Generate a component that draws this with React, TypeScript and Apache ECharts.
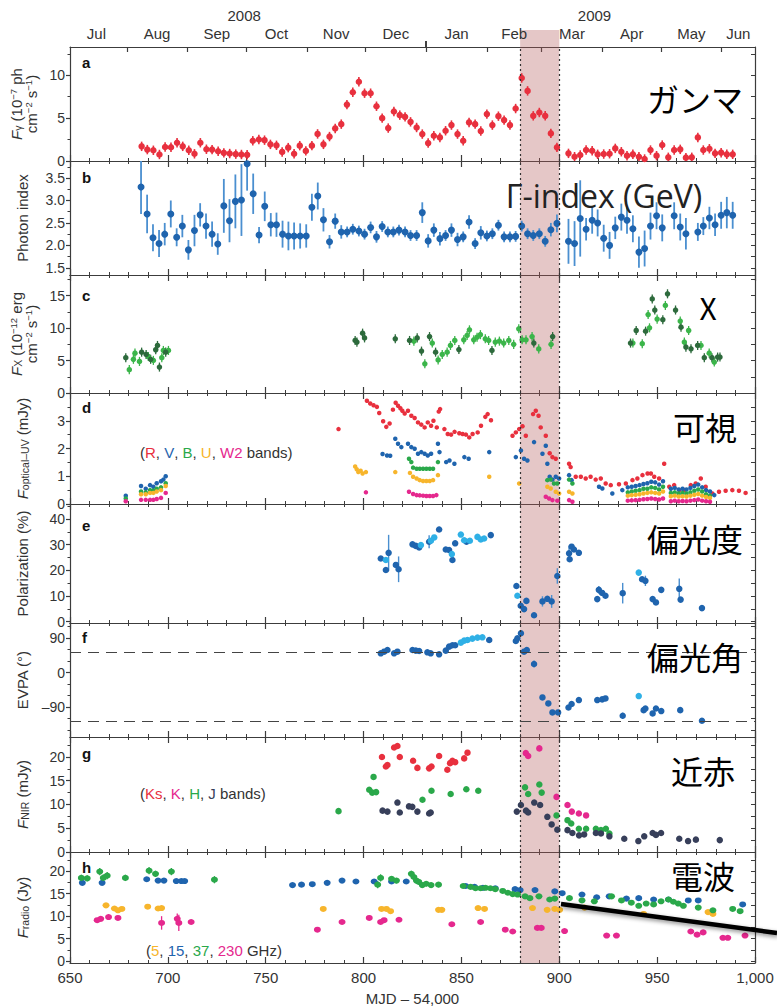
import React, { useEffect, useRef } from "react";
import * as echarts from "echarts";

const FONT = "'Liberation Sans', Arial, Helvetica, sans-serif";
const CJK = "'Noto Sans CJK JP', 'Noto Sans', sans-serif";

// ---------- axes / ticks ----------
const X_RANGE = [650, 1000];
const X_STEP = 50;
const MONTH_TICKS = [679, 710, 740, 771, 801, 832, 863, 891, 922, 952, 983];
const MONTH_MIDS = [663.5, 694.5, 725, 755.5, 786, 816.5, 847.5, 877, 906.5, 937, 967.5, 991.5];
const MONTH_NAMES = ["Jul", "Aug", "Sep", "Oct", "Nov", "Dec", "Jan", "Feb", "Mar", "Apr", "May", "Jun"];
const YEAR_MIDS = [739, 918];
const YEAR_NAMES = ["2008", "2009"];
const YEAR_BOUNDARY = [832];
const FLARE = [880, 900];
const EVPA_REF = [52, -128];

const Y_RANGES = [[0, 13.3], [1.34, 3.88], [0, 18.2], [0, 4.0], [-0.5, 45.8], [-168, 129], [0, 24.2], [-0.4, 24.25]];
const Y_MAJOR = [[0, 5, 10], [1.5, 2, 2.5, 3, 3.5], [0, 5, 10, 15], [0, 1, 2, 3], [0, 10, 20, 30, 40], [-90, 0, 90], [0, 5, 10, 15, 20], [0, 5, 10, 15, 20]];
const Y_MINOR = [[2.5, 7.5, 12.5], [1.75, 2.25, 2.75, 3.25, 3.75], [2.5, 7.5, 12.5, 17.5], [0.5, 1.5, 2.5, 3.5], [5, 15, 25, 35, 45], [-150, -120, -60, -30, 30, 60, 120], [2.5, 7.5, 12.5, 17.5, 22.5], [2.5, 7.5, 12.5, 17.5, 22.5]];
const Y_NAMES = [
  "{i|F}{sub|γ} (10{sup|−7} ph\ncm{sup|−2} s{sup|−1})",
  "Photon index",
  "{i|F}{sub|X} (10{sup|−12} erg\ncm{sup|−2} s{sup|−1})",
  "{i|F}{sub|optical–UV} (mJy)",
  "Polarization (%)",
  "EVPA (°)",
  "{i|F}{sub|NIR} (mJy)",
  "{i|F}{sub|radio} (Jy)",
];
const PANEL_LETTERS = ["a", "b", "c", "d", "e", "f", "g", "h"];
const PANEL_TAGS = ["ガンマ", "Γ-index (GeV)", "X", "可視", "偏光度", "偏光角", "近赤", "電波"];

// ---------- data ----------
const GAMMA = [[686.6,1.71],[689.5,1.33],[692.6,1.25],[695.7,0.76],[698.6,1.63],[701.6,1.6],[704.7,2.13],[707.6,1.71],[710.7,1.25],[713.6,0.84],[716.6,2.13],[719.7,1.37],[722.6,1.33],[725.7,1.14],[728.6,0.95],[731.6,0.87],[734.7,0.8],[737.6,0.76],[740.5,0.72],[743.4,2.36],[746.5,2.51],[749.4,2.43],[752.4,1.94],[755.5,1.83],[758.4,1.06],[761.5,1.56],[764.5,0.84],[767.4,1.79],[770.5,1.18],[773.6,1.79],[776.5,3.16],[779.5,1.94],[782.6,2.85],[785.5,3.8],[788.6,4.3],[791.5,6.58],[794.5,8.02],[797.6,9.24],[800.5,7.91],[803.6,7.91],[806.6,6.39],[809.5,5.0],[812.6,3.84],[815.5,5.78],[818.5,5.35],[821.2,5.15],[824,4.57],[827.1,3.91],[830,3.14],[833,2.09],[835.9,2.95],[839,2.75],[841.9,3.53],[844.9,4.19],[848,3.14],[850.9,2.36],[853.9,4.5],[857,4.3],[859.9,3.49],[863,5.47],[865.8,4.19],[868.9,5.23],[871.8,4.77],[874.8,4.19],[877.7,6.12],[880.8,9.69],[883.8,8.18],[886.7,5.27],[889.8,5.66],[892.8,5.27],[895.7,3.22],[898.8,1.59],[904.7,0.89],[907.8,0.5],[910.7,0.7],[913.7,1.28],[916.8,1.2],[919.6,0.78],[922.7,0.81],[925.7,0.85],[928.6,1.47],[931.7,1.08],[934.6,0.62],[937.6,0.78],[940.7,0.5],[943.6,0.23],[946.6,1.28],[949.7,0.62],[952.6,1.86],[955.7,0.43],[958.7,1.28],[961.8,1.36],[964.7,0.39],[967.7,0.43],[970.8,2.75],[973.6,1.28],[976.7,1.43],[979.6,0.89],[982.7,0.97],[985.6,0.78],[988.6,0.78]];
const GAMMA_ERR = 0.55;

const PHOTON_INDEX = [[686.3,3.3,0.6],[689.4,2.7,0.43],[692.4,2.17,0.3],[695.5,2.04,0.3],[698.4,2.25,0.25],[701.5,2.7,0.3],[704.5,2.18,0.2],[707.4,2.43,0.25],[710.5,1.9,0.22],[713.6,2.33,0.35],[716.5,2.68,0.26],[719.5,2.43,0.28],[722.6,2.25,0.28],[725.5,2.03,0.24],[728.6,2.88,0.6],[731.5,2.55,0.48],[734.5,2.98,0.6],[737.6,3.01,0.8],[740.5,3.82,0.6],[743.6,3.15,0.45],[746.6,2.23,0.18],[749.5,2.87,0.33],[752.6,2.46,0.26],[755.5,2.46,0.27],[758.6,2.25,0.3],[761.6,2.21,0.32],[764.5,2.21,0.3],[767.6,2.21,0.28],[770.7,2.21,0.26],[773.6,2.85,0.3],[776.6,3.1,0.3],[779.5,2.57,0.26],[782.6,2.08,0.15],[785.5,2.54,0.17],[788.6,2.3,0.15],[791.6,2.3,0.12],[794.5,2.36,0.12],[797.6,2.32,0.12],[800.5,2.25,0.12],[803.6,2.4,0.13],[806.6,2.19,0.13],[809.5,2.42,0.12],[812.4,2.3,0.12],[815.2,2.3,0.12],[818.1,2.34,0.12],[821.2,2.3,0.12],[824,2.22,0.12],[827.1,2.22,0.12],[830,2.73,0.23],[833,2.1,0.15],[835.9,2.34,0.15],[839,2.15,0.15],[841.9,2.22,0.12],[844.9,2.34,0.15],[848,2.13,0.15],[850.9,2.19,0.12],[853.9,2.52,0.15],[857,2.04,0.12],[859.9,2.28,0.15],[863,2.21,0.12],[865.8,2.26,0.12],[868.9,2.45,0.12],[871.8,2.19,0.12],[874.8,2.19,0.12],[877.7,2.2,0.12],[880.8,2.43,0.12],[883.8,2.26,0.12],[886.7,2.22,0.12],[889.8,2.26,0.12],[892.8,2.09,0.12],[895.7,2.35,0.15],[898.8,2.49,0.2],[904.7,2.09,0.5],[907.8,2.04,0.5],[910.7,2.6,0.85],[913.7,2.36,0.25],[916.8,2.56,0.3],[919.6,2.5,0.3],[922.7,2.16,0.3],[925.7,2.0,0.3],[928.6,2.39,0.25],[931.7,2.63,0.3],[934.6,2.56,0.3],[937.6,2.37,0.3],[940.7,1.85,0.35],[943.6,1.93,0.4],[946.6,2.43,0.3],[949.7,2.66,0.3],[952.6,2.39,0.3],[958.7,2.66,0.3],[961.8,2.41,0.3],[964.7,2.26,0.35],[970.8,2.3,0.2],[973.6,2.43,0.2],[976.7,2.61,0.25],[979.6,2.46,0.25],[982.7,2.67,0.3],[985.6,2.73,0.35],[988.6,2.67,0.3]];

const XRAY_DARK = [[678.5,5.44],[686.6,6.3],[688.9,5.95],[691.2,5.2],[693.8,6.67],[694.7,7.33],[695.7,4.0],[698.9,6.3],[795.7,8.1],[796.6,7.85],[799.5,9.23],[800.5,8.5],[816.2,8.36],[823.5,8.1],[827.4,8.5],[829.6,6.46],[833.7,8.7],[836.8,6.3],[848.7,6.7],[865.6,6.56],[887,7.7],[896.6,8.7],[936.4,7.7],[939.3,9.64],[944.1,9.54],[947.5,14.5],[948.8,12.8],[952.9,11.3],[955.3,15.3],[959.4,12.8],[962.2,10.15],[964.7,7.08],[967.3,6.82],[970.7,7.33],[974.1,5.44],[978,5.44],[980.9,5.54],[982.1,5.54]];
const XRAY_LIGHT = [[680.3,3.6],[682.4,5.2],[683.2,6.15],[685.5,4.87],[690,5.64],[692.6,5.03],[696.9,5.44],[697.7,6.56],[700.3,6.56],[825.7,8.0],[831.3,4.5],[835.1,7.7],[838.1,5.1],[840.2,5.95],[842.7,6.3],[844.4,7.33],[846.6,8.1],[851.2,8.2],[852.9,8.87],[854.1,9.74],[856.3,8.2],[858,8.6],[859.7,9.0],[862.2,8.36],[863.9,8.1],[867.3,7.85],[869.4,8.0],[871.6,7.7],[874.2,8.1],[876.7,7.5],[879.3,9.9],[881,8.2],[883,8.2],[886.1,8.7],[889.5,6.8],[895.8,7.5],[937.6,7.7],[942.4,7.6],[945.4,12.1],[946.1,10.05],[950,11.4],[954.2,13.5],[961.8,11.1],[963.9,7.85],[966.1,9.64],[972.4,7.33],[976.6,6.15],[979.2,4.77]];
const XRAY_ERR = 0.7;

const OPT_R = [[787.2,2.7],[801.7,3.72],[803.4,3.62],[805.1,3.56],[806.8,3.5],[808,3.28],[810,2.98],[811.6,2.78],[813.3,2.9],[815,3.4],[816.4,3.65],[817.6,3.54],[818.8,3.45],[819.8,3.36],[821,3.26],[822.7,3.36],[824.4,3.18],[826.1,3.1],[827.8,2.94],[829.5,2.86],[831.2,2.76],[832.8,2.94],[834.5,2.82],[835.7,3.0],[837.4,2.76],[838.4,3.33],[839.1,3.42],[841.3,2.7],[843,2.52],[844.7,2.5],[846.5,2.6],[848.9,2.55],[850.6,2.52],[852.3,2.5],[854,2.4],[855.7,2.52],[858.3,2.58],[860,2.82],[862.2,3.14],[863.4,3.24],[865.1,3.02],[876.1,2.46],[877.8,2.58],[879.5,2.7],[881.2,2.8],[882.9,2.46],[886.6,3.24],[888,3.36],[889.4,3.18],[890.5,2.76],[893.1,2.46],[895.1,1.83],[896.5,1.69],[898.2,1.63],[905,1.45],[905.8,1.33],[908.4,0.98],[911,0.98],[913.5,0.92],[916,0.98],[918.6,0.88],[921.2,0.92],[923.7,0.74],[926.3,0.68],[930.5,0.71],[934,0.74],[937.4,0.86],[939.9,0.92],[942.5,1.04],[945.1,1.1],[946.8,1.1],[948.5,0.98],[951,0.92],[953.6,1.45],[956.2,0.62],[958.7,0.68],[961.3,0.5],[963.8,0.5],[967.2,0.68],[969.7,0.74],[972.3,0.92],[974.8,0.62],[978.2,0.38],[981.6,0.44],[985,0.48],[988.4,0.5],[991.8,0.48],[995.2,0.4]];
const OPT_V = [[678.5,0.3],[686.3,0.65],[688.7,0.55],[690.9,0.68],[692.6,0.62],[694.3,0.75],[696.5,0.82],[697.7,0.88],[698.9,1.0],[809.7,1.8],[812,1.75],[813.6,1.74],[816.2,2.35],[817.6,2.17],[819.3,2.05],[822.7,2.17],[824.4,2.05],[826.1,1.99],[827.8,1.81],[829.5,1.87],[831.2,1.81],[832.8,1.75],[834.5,1.81],[838,2.17],[838.8,1.87],[842.2,1.51],[843.9,1.57],[846.4,1.45],[851.5,1.69],[853.7,1.63],[864.2,1.87],[877.8,1.69],[880.4,1.93],[882,1.63],[883.7,1.57],[887.1,2.23],[891.4,1.81],[893.1,2.1],[893.9,1.45],[895.1,0.98],[896.5,0.88],[898.2,0.98],[899.9,0.92],[905,1.04],[906.3,0.86],[920.3,0.62],[922,0.56],[927.1,0.38],[932.2,0.5],[935,0.6],[937,0.62],[939,0.65],[941,0.68],[943,0.72],[945,0.75],[947,0.8],[949,0.78],[951,0.7],[953,0.82],[957,0.55],[959,0.58],[961,0.52],[963,0.55],[965,0.52],[967,0.58],[969,0.65],[971,0.7],[973,0.6],[975,0.5],[977,0.45],[979.2,0.32]];
const OPT_B = [[678.5,0.2],[686.3,0.45],[688.7,0.42],[690.9,0.5],[692.6,0.48],[694.3,0.55],[696.5,0.6],[698.9,0.75],[823.2,1.63],[824.4,1.51],[825.3,1.31],[827.1,1.27],[828.7,1.27],[830.4,1.27],[832.1,1.27],[833.8,1.27],[835.5,1.27],[838,1.51],[893.9,0.86],[895.6,0.88],[897.3,0.74],[899,0.74],[905,0.88],[906.7,0.74],[935,0.42],[937,0.45],[939,0.48],[941,0.5],[943,0.55],[945,0.55],[947,0.6],[949,0.58],[951,0.52],[953,0.62],[957,0.4],[959,0.42],[961,0.38],[963,0.4],[965,0.38],[967,0.42],[969,0.48],[971,0.52],[973,0.45],[975,0.35],[977,0.3]];
const OPT_U = [[686.3,0.35],[688.7,0.35],[690.9,0.4],[692.6,0.4],[694.3,0.45],[696.5,0.5],[698.9,0.65],[795.7,1.35],[796.5,1.25],[797.3,1.15],[798.5,1.2],[799.5,1.1],[801.2,1.15],[816.2,1.15],[823.7,1.12],[825.3,0.98],[827.1,0.92],[828.7,0.86],[830.4,0.83],[832.1,0.83],[833.8,0.83],[835.5,0.86],[838,1.04],[864.2,0.98],[879.5,0.74],[893.9,0.62],[895.6,0.56],[898.2,0.44],[899.9,0.38],[905,0.44],[906.7,0.38],[935,0.3],[937,0.32],[939,0.33],[941,0.35],[943,0.38],[945,0.4],[947,0.42],[949,0.4],[951,0.38],[953,0.45],[957,0.28],[959,0.3],[961,0.27],[963,0.28],[965,0.27],[967,0.3],[969,0.33],[971,0.36],[973,0.3],[975,0.25],[977,0.22]];
const OPT_W2 = [[678.5,0.1],[686.3,0.15],[688.7,0.15],[690.9,0.15],[692.6,0.15],[694.3,0.18],[696.5,0.22],[698.9,0.4],[801.2,0.42],[823.2,0.44],[825.3,0.36],[827.1,0.32],[828.7,0.31],[830.4,0.3],[832.1,0.29],[833.8,0.29],[835.5,0.29],[837.2,0.32],[893.1,0.26],[894.8,0.2],[896.5,0.14],[899,0.12],[905,0.14],[906.7,0.08],[935,0.12],[937,0.13],[939,0.14],[941,0.15],[943,0.17],[945,0.18],[947,0.2],[949,0.18],[951,0.16],[953,0.2],[957,0.1],[959,0.12],[961,0.1],[963,0.11],[965,0.1],[967,0.12],[969,0.14],[971,0.16],[973,0.12],[975,0.1],[977,0.08]];

const POL_DARK = [[808.8,24.6,1],[811.4,20.1,1],[812.8,26.8,7],[816.5,22.1,1],[817.9,20.4,5],[825,30.1,1],[826.7,29.5,1],[828.4,28.9,1],[833.5,31.1,2.5],[838.6,35.9,1],[842,28.1,1],[843.7,27.9,1],[845.4,24,1],[846.8,30.5,1],[852.6,31.1,1],[865,33.7,1],[878.1,13.9,1],[880.3,6.2,1],[882,4.9,1],[883.2,8.1,1],[887.1,2.5,1],[891.4,7.9,2],[893.9,8.9,1],[896.1,7.9,2.5],[899,17.8,3],[905,26.6,3],[905.3,24.3,1],[906.3,29.2,1],[907.5,28.1,1],[910,26.8,1],[919.4,8.8,1],[920.2,12.4,1.5],[921.9,11.2,1],[923.6,10.1,1],[932.4,11.1,4],[942.3,16.5,1],[944,15.9,2],[947.7,8.8,1],[949.4,7.5,1],[952.1,12.4,1],[961.3,12.8,4],[962,8.6,1],[972.9,5.3,1]];
const POL_LIGHT = [[811.4,24],[829.3,29.8],[834.4,31.5],[836.1,32.8],[845.1,26.3],[849.7,33.9],[851.4,31.7],[854.3,31.5],[858.2,33],[859.9,32],[861.6,32.4],[878.6,10.1],[940.6,19.1]];

const EVPA_DARK = [[808.8,50],[810.5,54.3],[812.2,58.7],[815.6,50],[817.3,54.3],[825,58.7],[826.7,57],[828.4,56],[832.6,52.6],[834.3,50],[838.6,47.4],[842,57],[843.7,67.4],[845.4,70.9],[846.8,70.9],[864.2,84.8],[877.8,82.2],[878.6,89],[880.4,102.2],[882,54.3],[883.4,58.7],[887.1,22.1],[891.4,-64.9],[894.4,-80.5],[896.5,-104],[899.4,-104],[904.7,-91],[906.3,-82],[910,-71.8],[919.4,-71.8],[921.9,-70],[923.6,-67.5],[932.4,-112.7],[943.1,-98],[944,-93.6],[947.7,-106.6],[949.4,-93.6],[952.1,-100.5],[961.8,-98],[972.9,-125.8]];
const EVPA_LIGHT = [[849.7,77.8],[851.4,83],[853.1,84.8],[855.6,88.3],[858.2,90.9],[860.7,91.7],[940.6,-61.4]];
const EVPA_ERR = [[887.1,22.1,9],[932.4,-112.7,8],[899.4,-104,4]];

const NIR_KS = [[809.4,20],[811.4,18],[812.2,18.3],[815.6,22],[817.3,22.3],[818.5,20],[825.3,19.2],[827.5,17.7],[833.5,17.6],[834.7,18],[838.6,20.2],[842.8,17.3],[844.2,18.7],[845.4,19.2],[846.8,18.9],[851.4,19.7],[853.1,20.9]];
const NIR_K = [[882.9,20.8],[884.1,20.2],[889.8,21.8],[898.6,11.6],[904.2,9.9],[906.4,8.5],[910,8.1],[913.7,7.7]];
const NIR_H = [[787.2,8.6],[802.9,13.1],[805.1,15.8],[804.4,12.5],[806.4,12.6],[830.1,11],[834.7,12.9],[844.5,12.2],[852.5,13.2],[858.6,12.9],[882.5,13.6],[884.1,12.2],[889.8,14.2],[891,12.5],[898.6,7.7],[904.2,6.7],[906.1,6],[910,4.9],[913.7,4.9],[918.7,4.9],[921.3,4.6],[923.8,4.9],[925.6,3.9]];
const NIR_J = [[809.7,8.7],[812.2,8.5],[817.3,10.4],[818.5,8.3],[823.2,9.6],[824.9,9.5],[827.5,8.5],[833.5,8.1],[834.3,8.3],[878.3,8.5],[880.4,9.9],[883,8.7],[884.1,8.3],[887.2,10.4],[890.2,9.9],[893.9,7.4],[896.1,5.8],[899,4.7],[904.2,4.6],[906.7,4.0],[910.1,3.5],[912.7,3.7],[918.7,4.0],[921.3,3.9],[925.6,3.3],[933.2,2.8],[940.4,2.3],[943.4,3.3],[947.7,4.0],[949.4,3.6],[952,4.0],[961.3,2.8],[965.8,2.3],[969.8,2.6],[982,2.5]];

const RADIO_5 = [[668.4,12.4],[672.7,11.7],[674.5,11.3],[676.5,11.6],[689.7,12.1],[695,11.7],[696.8,11.8],[779.4,11.6],[809.2,11.6],[811.7,11.6],[813.8,11.1],[838.3,11.4],[840,11.4],[858.5,11.8],[861.8,11.6],[886.3,11.8],[893.8,11.4],[897.7,11.6],[900.2,11.4],[912.9,11.9],[943.1,10.5],[976,10.9],[978.5,10.5]];
const RADIO_15 = [[656.3,17.4],[666.4,17.4],[689.2,18.2],[695,17.9],[698,17.9],[704.3,17.8],[706.9,17.8],[708.6,17.8],[763.7,16.9],[768.3,17],[773.8,17.1],[781.4,17.4],[789,17.9],[796.1,17.7],[805.4,17.7],[814.3,17.7],[821.8,17.7],[852.2,16.7],[856.7,16.5],[861,16.3],[867.3,16.2],[877.4,16],[880,15.8],[887.6,15.8],[897.7,15.5],[901.5,15.1],[911.6,14.8],[919.1,14.2],[925.5,14.4],[934.3,13.9],[940.6,14],[948.2,13.7],[955.8,13.7],[965.9,13.5],[971,13.5],[993.7,12.6]];
const RADIO_37 = [[655.8,18.5,0.7],[658.8,18.4,0.7],[665.2,19.9,0.8],[667,18.5,0.8],[669,19,0.8],[678.3,18.5,0.7],[690.4,20.1,0.8],[693.7,19.4,0.7],[701.8,19.9,0.8],[723.8,18.1,0.8],[807.2,17,0.8],[808.7,18.5,0.8],[814.3,18.3,0.6],[816.8,17.9,0.6],[824.4,19.4,0.7],[825.7,18.7,0.6],[827,17.9,0.6],[828.2,17.6,0.6],[830,16.9,0.6],[832,17.2,0.6],[834.5,16.9,0.6],[838.3,17,0.6],[850.9,16.7,0.5],[854.7,16.5,0.5],[857.2,16.2,0.5],[859.8,16.2,0.5],[862.3,16.3,0.5],[864.8,16.2,0.5],[867.3,16,0.5],[871.1,15.6,0.5],[873.7,15.2,0.5],[876.2,14.9,0.5],[878.7,14.8,0.5],[882.5,14.4,0.5],[885,14,0.5],[889.6,14.4,0.5],[895.1,13.7,0.5],[897.7,13.9,0.5],[905.2,14,0.5],[911.6,13.5,0.5],[917.9,13.3,0.5],[926.7,14.4,0.5],[931.8,13.5,0.5],[936.8,13,0.5],[940.6,12.3,0.5],[944.4,12.8,0.5],[948.2,12.6,0.5],[952,13.3,0.5],[955.8,13.7,0.5],[958.3,13.2,0.5],[960.8,12.8,0.5],[963.4,12.3,0.5],[971,11.9,0.5],[978.5,11.3,0.5],[988.6,11.6,0.5],[992.4,11.1,0.5]];
const RADIO_230 = [[663.9,9.1,0.5],[665.7,9.4,0.5],[669.7,9.8,0.6],[674.5,9.6,0.5],[696.8,8.5,1.5],[704.8,9.4,1.2],[705.6,8.5,1.8],[711.9,8.7,0.5],[776.4,7,0.5],[789,8.7,0.5],[802.9,9.6,0.5],[808.7,8.7,0.5],[810.5,9.1,0.5],[818.1,9.2,0.4],[845.1,8.2,0.5],[859.8,8.7,0.5],[872.4,7,0.4],[876.2,6.6,0.4],[888.8,7.4,0.4],[890.8,7.4,0.4],[902.7,6.7,0.4],[924.2,5.7,0.4],[929.2,5.7,0.4],[967.2,6.6,0.4],[970.4,5.9,0.4],[973.5,6.4,0.4],[983.6,5.2,0.4],[986.1,5.2,0.4],[994.9,5.7,0.4]];

// ---------- styles ----------
const C = {
  axis: "#3c3c3c",
  red: "#e8303e",
  blue: "#1f64ae",
  blueBar: "#4a8fd0",
  dkGreen: "#2d6a3c",
  ltGreen: "#3bb54a",
  green: "#2aa84a",
  orange: "#f7b52c",
  magenta: "#e5288e",
  navy: "#373f5a",
  cyan: "#2fb0e6",
  band: "rgba(180,90,90,0.34)",
};
const EDGES = [47, 161, 275, 393, 504, 623, 737, 852, 968];
const TICK_FS = 15;
const YTICK_FS = 14;

function nearestLabel(v: number, vals: number[], names: string[]) {
  let best = 0;
  for (let k = 1; k < vals.length; k++) if (Math.abs(vals[k] - v) < Math.abs(vals[best] - v)) best = k;
  return names[best];
}

function dots(gi: number, data: number[][], color: string, size: any, z = 4) {
  return { type: "scatter", xAxisIndex: gi, yAxisIndex: gi, data, symbolSize: size, itemStyle: { color, opacity: 1 }, silent: true, z, animation: false };
}
function bars(gi: number, data: number[][], color: string, width = 1.3) {
  return {
    type: "custom", xAxisIndex: gi, yAxisIndex: gi, data, clip: true, silent: true, z: 3,
    encode: { x: 0, y: 1 },
    renderItem: (_p: any, api: any) => {
      const x = api.value(0), y = api.value(1), e = api.value(2);
      const a = api.coord([x, y - e]);
      const b = api.coord([x, y + e]);
      return { type: "line", shape: { x1: a[0], y1: a[1], x2: b[0], y2: b[1] }, style: { stroke: color, lineWidth: width } };
    },
  };
}
const withErr = (data: number[][], e: number) => data.map((d) => [d[0], d[1], e]);

export default function App() {
  const ref = useRef<HTMLDivElement>(null);
  useEffect(() => {
    document.body.style.margin = "0";
    if (!ref.current) return;
    const chart = echarts.init(ref.current, null, { renderer: "svg" });
    const lineStyle = { color: C.axis, width: 1.2 };

    const grid = EDGES.slice(0, 8).map((t, i) => ({ left: 70, right: 22, top: t, height: EDGES[i + 1] - t }));

    const xAxis: any[] = [];
    for (let i = 0; i < 8; i++) {
      xAxis.push({
        type: "value", gridIndex: i, position: "bottom", min: X_RANGE[0], max: X_RANGE[1], interval: X_STEP,
        axisLine: { show: true, onZero: false, lineStyle },
        axisTick: { show: true, inside: true, length: 6, lineStyle },
        minorTick: { show: true, splitNumber: 5, length: 3, lineStyle: { color: C.axis, width: 1 } },
        splitLine: { show: false }, minorSplitLine: { show: false },
        axisLabel: { show: i === 7, fontSize: TICK_FS, color: "#333", margin: 7, fontFamily: FONT, formatter: (v: number) => v.toLocaleString("en-US") },
        name: i === 7 ? "MJD – 54,000" : "", nameLocation: "middle", nameGap: 28,
        nameTextStyle: { fontSize: TICK_FS, color: "#333", fontFamily: FONT },
      });
    }
    for (let i = 0; i < 8; i++) {
      if (i === 0) {
        xAxis.push({
          type: "value", gridIndex: 0, position: "top", min: X_RANGE[0], max: X_RANGE[1],
          axisLine: { show: true, onZero: false, lineStyle },
          axisTick: { show: true, inside: true, length: 5, customValues: MONTH_TICKS, lineStyle },
          minorTick: { show: false }, splitLine: { show: false },
          axisLabel: { show: true, customValues: MONTH_MIDS, fontSize: TICK_FS, color: "#333", margin: 6, fontFamily: FONT,
            formatter: (v: number) => nearestLabel(v, MONTH_MIDS, MONTH_NAMES) },
        });
      } else {
        xAxis.push({
          type: "value", gridIndex: i, position: "top", min: X_RANGE[0], max: X_RANGE[1], interval: X_STEP,
          axisLine: { show: true, onZero: false, lineStyle },
          axisTick: { show: true, inside: true, length: 6, lineStyle },
          minorTick: { show: true, splitNumber: 5, length: 3, lineStyle: { color: C.axis, width: 1 } },
          splitLine: { show: false }, minorSplitLine: { show: false },
          axisLabel: { show: false },
        });
      }
    }
    xAxis.push({
      type: "value", gridIndex: 0, position: "top", min: X_RANGE[0], max: X_RANGE[1],
      axisLine: { show: false, onZero: false },
      axisTick: { show: true, inside: false, length: 6, customValues: YEAR_BOUNDARY, lineStyle: { color: "#111", width: 1.6 } },
      minorTick: { show: false }, splitLine: { show: false },
      axisLabel: { show: true, customValues: YEAR_MIDS, fontSize: TICK_FS, color: "#333", margin: 24, fontFamily: FONT,
        formatter: (v: number) => nearestLabel(v, YEAR_MIDS, YEAR_NAMES) },
    });

    const fmtY = (i: number) => (v: number) => {
      if (i === 1) return v.toFixed(1);
      if (v < 0) return "–" + Math.abs(v);
      return String(v);
    };
    const yAxis: any[] = [];
    for (let i = 0; i < 8; i++) {
      const twoLine = i === 0 || i === 2;
      yAxis.push({
        type: "value", gridIndex: i, position: "left", min: Y_RANGES[i][0], max: Y_RANGES[i][1],
        axisLine: { show: true, onZero: false, lineStyle },
        axisTick: { show: true, inside: false, length: 4, customValues: Y_MAJOR[i], lineStyle },
        axisLabel: { show: true, customValues: Y_MAJOR[i], fontSize: YTICK_FS, color: "#333", margin: 5, fontFamily: FONT, formatter: fmtY(i) },
        splitLine: { show: false },
        name: Y_NAMES[i], nameLocation: "middle", nameRotate: 90, nameGap: twoLine ? 27 : 40,
        nameTextStyle: {
          fontSize: 15, color: "#333", fontFamily: FONT, lineHeight: 15,
          rich: {
            i: { fontStyle: "italic", fontSize: 15, color: "#333", fontFamily: FONT, lineHeight: 15 },
            sub: { fontSize: 10.5, color: "#333", fontFamily: FONT, lineHeight: 10, verticalAlign: "bottom" },
            sup: { fontSize: 9.5, color: "#333", fontFamily: FONT, lineHeight: 9, verticalAlign: "top" },
          },
        },
      });
    }
    for (let i = 0; i < 8; i++) {
      yAxis.push({
        type: "value", gridIndex: i, position: "left", min: Y_RANGES[i][0], max: Y_RANGES[i][1],
        axisLine: { show: false, onZero: false },
        axisTick: { show: true, inside: false, length: 2.5, customValues: Y_MINOR[i], lineStyle: { color: C.axis, width: 1 } },
        axisLabel: { show: false }, splitLine: { show: false },
      });
    }
    for (let i = 0; i < 8; i++) {
      yAxis.push({
        type: "value", gridIndex: i, position: "right", min: Y_RANGES[i][0], max: Y_RANGES[i][1],
        axisLine: { show: true, onZero: false, lineStyle },
        axisTick: { show: true, inside: true, length: 4, customValues: [...Y_MAJOR[i], ...Y_MINOR[i]], lineStyle: { color: C.axis, width: 1 } },
        axisLabel: { show: false }, splitLine: { show: false },
      });
    }

    const series: any[] = [];
    for (let i = 0; i < 8; i++) {
      series.push({
        type: "scatter", xAxisIndex: i, yAxisIndex: i, data: [], z: 1, silent: true,
        markArea: { silent: true, itemStyle: { color: C.band }, data: [[{ xAxis: FLARE[0] }, { xAxis: FLARE[1] }]] },
        markLine: {
          silent: true, symbol: "none", label: { show: false },
          lineStyle: { type: [2, 3], color: "#333", width: 1.2 },
          data: FLARE.map((v) => ({ xAxis: v })),
        },
      });
    }
    // a
    series.push(bars(0, withErr(GAMMA, GAMMA_ERR), C.red, 1.6));
    series.push(dots(0, GAMMA, C.red, 6.5));
    // b
    series.push(bars(1, PHOTON_INDEX, C.blueBar, 1.8));
    series.push(dots(1, PHOTON_INDEX, C.blue, 7));
    // c
    series.push(bars(2, withErr(XRAY_LIGHT, XRAY_ERR), C.ltGreen, 1.3));
    series.push(bars(2, withErr(XRAY_DARK, XRAY_ERR), C.dkGreen, 1.3));
    series.push(dots(2, XRAY_LIGHT, C.ltGreen, 5.5));
    series.push(dots(2, XRAY_DARK, C.dkGreen, 5.5));
    // d
    series.push(dots(3, OPT_R, C.red, 4.5));
    series.push(dots(3, OPT_V, C.blue, 4.5));
    series.push(dots(3, OPT_B, C.green, 4.5));
    series.push(dots(3, OPT_U, C.orange, 4.5));
    series.push(dots(3, OPT_W2, C.magenta, 4.5));
    // e
    series.push(bars(4, POL_DARK, C.blueBar, 1.4));
    series.push(dots(4, POL_DARK, C.blue, 6.5));
    series.push(dots(4, POL_LIGHT, C.cyan, 6.5));
    // f
    series.push({
      type: "scatter", xAxisIndex: 5, yAxisIndex: 5, data: [], z: 1, silent: true,
      markLine: {
        silent: true, symbol: "none", label: { show: false },
        lineStyle: { type: [11, 7], color: "#444", width: 1.2 },
        data: EVPA_REF.map((v) => ({ yAxis: v })),
      },
    });
    series.push(bars(5, EVPA_ERR, C.blueBar, 1.4));
    series.push(dots(5, EVPA_DARK, C.blue, 6.5));
    series.push(dots(5, EVPA_LIGHT, C.cyan, 6.5));
    // g
    series.push(dots(6, NIR_KS, C.red, 6.5));
    series.push(dots(6, NIR_K, C.magenta, 6.5));
    series.push(dots(6, NIR_H, C.green, 6.5));
    series.push(dots(6, NIR_J, C.navy, 6.5));
    // h
    series.push(bars(7, RADIO_37, C.green, 1.3));
    series.push(bars(7, RADIO_230, C.magenta, 1.3));
    series.push(dots(7, RADIO_5, C.orange, [7, 6]));
    series.push(dots(7, RADIO_15, C.blue, [7, 6]));
    series.push(dots(7, RADIO_37, C.green, [7, 6]));
    series.push(dots(7, RADIO_230, C.magenta, [7, 6]));

    chart.setOption({
      animation: false,
      textStyle: { fontFamily: FONT },
      grid, xAxis, yAxis, series,
    });

    const xa = chart.convertToPixel({ xAxisIndex: 0 }, FLARE[0]) as number;
    const xb = chart.convertToPixel({ xAxisIndex: 0 }, FLARE[1]) as number;

    const letterY = [62, 177, 295, 407, 525, 637, 753, 867];
    const tagPos = [[695, 98, 32], [604, 195, 32], [708, 307, 30], [705, 426, 32], [695, 538, 32], [695, 656, 32], [703, 770, 32], [703, 875, 32]];
    const graphic: any[] = [];
    graphic.push({ type: "rect", shape: { x: xa, y: 30, width: xb - xa, height: EDGES[0] - 30 }, style: { fill: C.band }, z: -1, silent: true });
    PANEL_LETTERS.forEach((l, i) => {
      graphic.push({ type: "text", x: 82, y: letterY[i], silent: true,
        style: { text: l, fontSize: 15, fontWeight: "bold", fontFamily: FONT, fill: "#111", textAlign: "left", textVerticalAlign: "middle", verticalAlign: "middle" } });
    });
    PANEL_TAGS.forEach((t, i) => {
      graphic.push({ type: "text", x: tagPos[i][0], y: tagPos[i][1], silent: true, z: 50,
        style: { text: t, fontSize: tagPos[i][2], fontFamily: i === 1 ? "'Open Sans', 'Noto Sans', sans-serif" : CJK, fill: i === 1 ? "#222" : "#000",
          textAlign: "center", textVerticalAlign: "middle", verticalAlign: "middle" } });
    });
    const richBase = { fontSize: 15, fontFamily: FONT };
    graphic.push({ type: "text", x: 140, y: 452, silent: true,
      style: { text: "({r|R}, {v|V}, {b|B}, {u|U}, {w|W2} bands)", ...richBase, fill: "#333", textVerticalAlign: "middle", verticalAlign: "middle",
        rich: { r: { ...richBase, fill: C.red }, v: { ...richBase, fill: C.blue }, b: { ...richBase, fill: C.green }, u: { ...richBase, fill: C.orange }, w: { ...richBase, fill: C.magenta } } } });
    graphic.push({ type: "text", x: 140, y: 793, silent: true,
      style: { text: "({r|Ks}, {m|K}, {g|H}, {j|J} bands)", ...richBase, fill: "#333", textVerticalAlign: "middle", verticalAlign: "middle",
        rich: { r: { ...richBase, fill: C.red }, m: { ...richBase, fill: C.magenta }, g: { ...richBase, fill: C.green }, j: { ...richBase, fill: C.navy } } } });
    graphic.push({ type: "text", x: 146, y: 950, silent: true,
      style: { text: "({o|5}, {b|15}, {g|37}, {m|230} GHz)", ...richBase, fill: "#333", textVerticalAlign: "middle", verticalAlign: "middle",
        rich: { o: { ...richBase, fill: C.orange }, b: { ...richBase, fill: C.blue }, g: { ...richBase, fill: C.green }, m: { ...richBase, fill: C.magenta } } } });
    graphic.push({ type: "line", silent: true, z: 100, shape: { x1: 561, y1: 904, x2: 777, y2: 933 },
      style: { stroke: "#000", lineWidth: 4.5, shadowBlur: 4, shadowColor: "rgba(0,0,0,0.45)", shadowOffsetX: 1, shadowOffsetY: 2 } });

    chart.setOption({ graphic });

    return () => chart.dispose();
  }, []);
  return <div ref={ref} style={{ width: 777, height: 1007 }} />;
}
